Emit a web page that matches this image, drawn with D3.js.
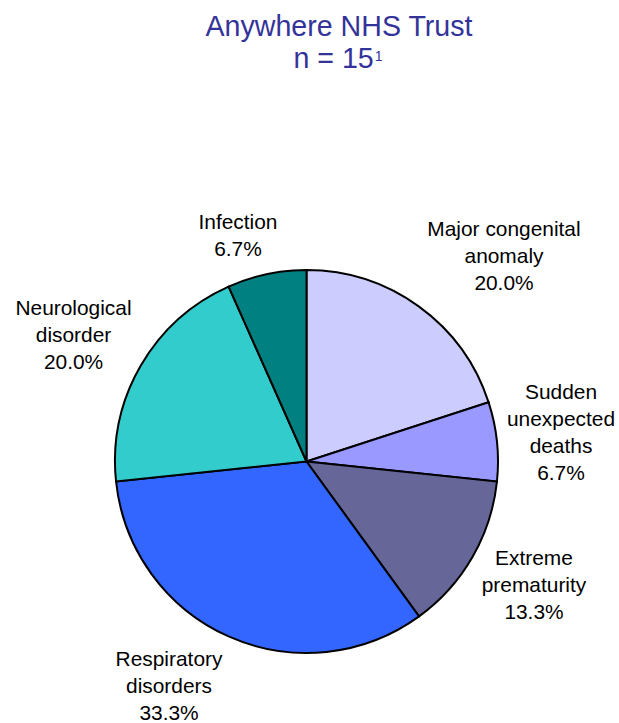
<!DOCTYPE html>
<head>
  <meta charset="utf-8">
  <title>index.html</title>
</head>
<style>
body { margin: 0; background: #fff; }
text { font-family: "Liberation Sans", Arial, sans-serif; }
.title { fill: #333399; font-size: 28.6px; }
.lbl { fill: #000; font-size: 20.9px; }
.slice { stroke: #000; stroke-width: 2px; }
</style>
<body>
<svg width="619" height="723"></svg>
<script src="https://d3js.org/d3.v7.min.js"></script>
<script>
// data
var causes = [
  ["Major congenital", "anomaly"],
  ["Sudden", "unexpected", "deaths"],
  ["Extreme", "prematurity"],
  ["Respiratory", "disorders"],
  ["Neurological", "disorder"],
  ["Infection"]
];
var counts = [3, 1, 2, 5, 3, 1];
var colours = ["#ccccff", "#9999ff", "#666699", "#3366ff", "#33cccc", "#008080"];

// label anchor (centre x, first baseline) relative to the pie centre
var labelOffsets = [
  [197.5, -225.5], [254.5, -62.5], [227.5, 103.5],
  [-137.5, 204.5], [-233, -146.5], [-68.5, -232.5]
];

var svg = d3.select("svg"),
    cx = 306.5, cy = 461.5, radius = 191.5,
    lineH = 27;

var total = d3.sum(counts);

// title
var title = svg.append("text")
    .attr("class", "title")
    .attr("text-anchor", "middle")
    .attr("x", 339)
    .attr("y", 35.5);
title.append("tspan").attr("x", 339).text("Anywhere NHS Trust");
var t2 = title.append("tspan").attr("x", 338).attr("dy", 32.8);
t2.append("tspan").text("n = " + total);
t2.append("tspan").attr("font-size", "14px").attr("dx", 1).attr("dy", -7.5).text("1");

var colScale = d3.scaleOrdinal()
    .domain(d3.range(counts.length))
    .range(colours);

var pie = d3.pie().sort(null).value(function(d) { return d; });
var arc = d3.arc().innerRadius(0).outerRadius(radius);

var g = svg.append("g").attr("transform", "translate(" + cx + "," + cy + ")");

var arcs = pie(counts);

g.selectAll("path")
  .data(arcs)
  .enter().append("path")
    .attr("class", "slice")
    .attr("fill", function(d, i) { return colScale(i); })
    .attr("d", arc);

var fmt = d3.format(".1f");

g.selectAll("text.lbl")
  .data(arcs)
  .enter().append("text")
    .attr("class", "lbl")
    .attr("text-anchor", "middle")
    .each(function(d, i) {
      var el = d3.select(this),
          off = labelOffsets[i],
          lines = causes[i].concat([fmt(d.value / total * 100) + "%"]);
      lines.forEach(function(s, j) {
        el.append("tspan")
          .attr("x", off[0])
          .attr("y", off[1] + j * lineH)
          .text(s);
      });
    });
</script>
</body>
